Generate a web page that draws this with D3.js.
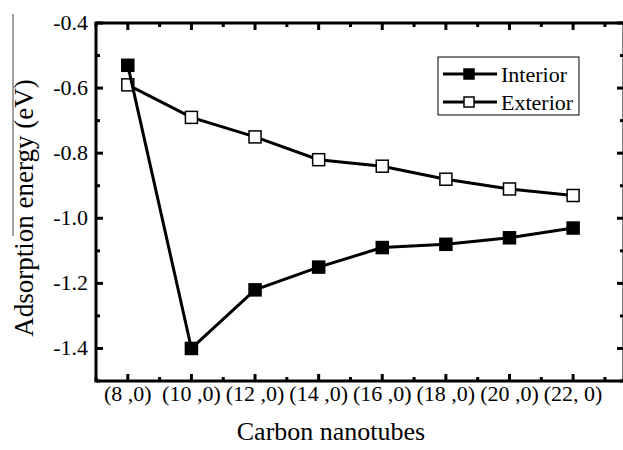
<!DOCTYPE html>
<html>
<head>
<meta charset="utf-8">
<script src="https://cdn.jsdelivr.net/npm/d3@7"></script>
<style>
  body { margin: 0; background: #fff; }
</style>
</head>
<body>
<script>
var categories = ["(8 ,0)", "(10 ,0)", "(12 ,0)", "(14 ,0)", "(16 ,0)", "(18 ,0)", "(20 ,0)", "(22, 0)"]
var tubeIndex = [8, 10, 12, 14, 16, 18, 20, 22]
var interior = [-0.53, -1.40, -1.22, -1.15, -1.09, -1.08, -1.06, -1.03]
var exterior = [-0.59, -0.69, -0.75, -0.82, -0.84, -0.88, -0.91, -0.93]
var yTicks = [-1.4, -1.2, -1.0, -0.8, -0.6, -0.4]

var width = 623
var height = 450
// note: "top" is taken by window.top, so use plotTop
var plotLeft = 96, plotRight = 624, plotTop = 23, plotBottom = 381
var serif = "'Liberation Serif', 'Times New Roman', 'DejaVu Serif', serif"

var svg = d3.select('body').append('svg')
    .attr('width', width)
    .attr('height', height)
    .style('font-family', serif)

var x = d3.scaleLinear().domain([7, 23.6]).range([plotLeft, plotRight])
var y = d3.scaleLinear().domain([-1.5, -0.4]).range([plotBottom, plotTop])

// frame
svg.append('rect')
    .attr('x', plotLeft).attr('y', plotTop)
    .attr('width', plotRight - plotLeft).attr('height', plotBottom - plotTop)
    .attr('fill', 'none').attr('stroke', '#000').attr('stroke-width', 3)

// x ticks (major at categories, minor between), inward on bottom and top
d3.range(7, 23.6, 1).forEach(function (v) {
    var len = v % 2 === 0 ? 7 : 4
    svg.append('line').attr('x1', x(v)).attr('x2', x(v))
        .attr('y1', plotBottom).attr('y2', plotBottom - len)
        .attr('stroke', '#000').attr('stroke-width', 3)
    svg.append('line').attr('x1', x(v)).attr('x2', x(v))
        .attr('y1', plotTop).attr('y2', plotTop + len)
        .attr('stroke', '#000').attr('stroke-width', 3)
})

// y ticks, inward on left and right
d3.range(-15, -3, 1).forEach(function (k) {
    var v = k / 10
    var len = k % 2 === 0 ? 7 : 4
    svg.append('line').attr('x1', plotLeft).attr('x2', plotLeft + len)
        .attr('y1', y(v)).attr('y2', y(v))
        .attr('stroke', '#000').attr('stroke-width', 3)
    svg.append('line').attr('x1', plotRight).attr('x2', plotRight - len)
        .attr('y1', y(v)).attr('y2', y(v))
        .attr('stroke', '#000').attr('stroke-width', 3)
})

// y tick labels (plain hyphen like the original)
svg.selectAll('.ylab')
    .data(yTicks)
    .enter().append('text')
    .attr('class', 'ylab')
    .attr('x', plotLeft - 8)
    .attr('y', function (d) { return y(d) + 7 })
    .attr('text-anchor', 'end')
    .style('font-family', serif)
    .style('font-size', '22px')
    .text(function (d) { return d3.format('.1f')(d).replace('\u2212', '-') })

// x tick labels
svg.selectAll('.xlab')
    .data(categories)
    .enter().append('text')
    .attr('class', 'xlab')
    .attr('x', function (d, i) { return x(tubeIndex[i]) })
    .attr('y', 401)
    .attr('text-anchor', 'middle')
    .style('font-family', serif)
    .style('font-size', '22px')
    .text(function (d) { return d })

// axis titles
svg.append('text')
    .attr('x', 331).attr('y', 440)
    .attr('text-anchor', 'middle')
    .style('font-family', serif)
    .style('font-size', '26px')
    .text('Carbon nanotubes')

svg.append('text')
    .attr('transform', 'translate(33,208) rotate(-90)')
    .attr('text-anchor', 'middle')
    .style('font-family', serif)
    .style('font-size', '27px')
    .text('Adsorption energy (eV)')

// stray line at left of the y title
svg.append('line')
    .attr('x1', 13).attr('x2', 13).attr('y1', 14).attr('y2', 236)
    .attr('stroke', '#444').attr('stroke-width', 1)

var line = d3.line()
    .x(function (d, i) { return x(tubeIndex[i]) })
    .y(function (d) { return y(d) })

function drawSeries(values, fill) {
    svg.append('path')
        .datum(values)
        .attr('d', line)
        .attr('fill', 'none')
        .attr('stroke', '#000')
        .attr('stroke-width', 3)
    svg.selectAll(null)
        .data(values)
        .enter().append('rect')
        .attr('x', function (d, i) { return x(tubeIndex[i]) - 6 })
        .attr('y', function (d) { return y(d) - 6 })
        .attr('width', 12).attr('height', 12)
        .attr('fill', fill)
        .attr('stroke', '#000')
        .attr('stroke-width', 1.5)
}

drawSeries(exterior, '#fff')
drawSeries(interior, '#000')

// legend
svg.append('rect')
    .attr('x', 438).attr('y', 57).attr('width', 141).attr('height', 58)
    .attr('fill', '#fff').attr('stroke', '#000').attr('stroke-width', 1)
var legendItems = [{ name: 'Interior', fill: '#000' }, { name: 'Exterior', fill: '#fff' }]
legendItems.forEach(function (d, i) {
    var ly = 74 + i * 28
    svg.append('line').attr('x1', 443).attr('x2', 497).attr('y1', ly).attr('y2', ly)
        .attr('stroke', '#000').attr('stroke-width', 3)
    svg.append('rect').attr('x', 464).attr('y', ly - 5).attr('width', 10).attr('height', 10)
        .attr('fill', d.fill).attr('stroke', '#000').attr('stroke-width', 1.5)
    svg.append('text').attr('x', 501).attr('y', ly + 8)
        .style('font-family', serif)
        .style('font-size', '22px')
        .text(d.name)
})
</script>
</body>
</html>
